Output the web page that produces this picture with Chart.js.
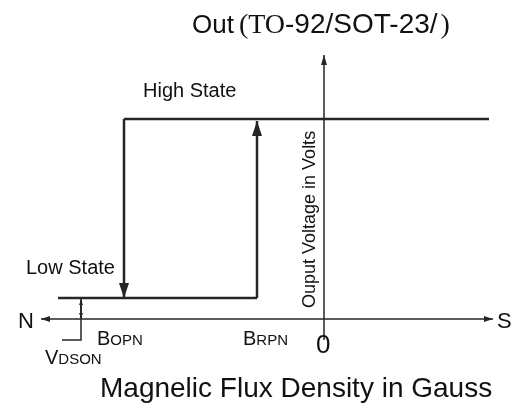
<!DOCTYPE html>
<html>
<head>
<meta charset="utf-8">
<script src="https://cdn.jsdelivr.net/npm/chart.js@4/dist/chart.umd.min.js"></script>
<style>
  body { margin: 0; background: #fff; }
  #wrap { width: 512px; height: 405px; }
</style>
</head>
<body>
<div id="wrap"><canvas id="hyst" width="512" height="405"></canvas></div>
<script>
// hysteresis loop (x = flux density, y = output voltage, arbitrary units)
const highX = [-20, 16.5];
const highY = [20, 20];
const fallX = [-20, -20];
const fallY = [20, 2.1];
const lowX = [-26.6, -6.7];
const lowY = [2.1, 2.1];
const riseX = [-6.7, -6.7];
const riseY = [2.1, 19.8];

// axes
const fluxAxisX = [-28.3, 16.9];
const fluxAxisY = [0, 0];
const voltAxisX = [0, 0];
const voltAxisY = [-2.1, 26.4];

// VDSON bracket
const vdsonX = [-26.2, -24.3, -24.3];
const vdsonY = [-2.1, -2.1, 2.1];
const vdsonMarkX = [-24.3, -24.3];
const vdsonMarkY = [1.9, 0.1];

const ink = '#262626';

function pts(xs, ys) {
    return xs.map((x, i) => ({ x: x, y: ys[i] }));
}

function line(xs, ys, width, extra) {
    return Object.assign({
        data: pts(xs, ys),
        showLine: true,
        borderColor: ink,
        borderWidth: width,
        pointRadius: 0,
        fill: false
    }, extra || {});
}

// text labels: [parts, x, y], parts = [text, font, gap before]
const sans = 'Liberation Sans, Arial, sans-serif';
const serif = 'Liberation Serif, Times New Roman, serif';
const labels = [
    [[['Out', '26px ' + sans], ['(TO', '28px ' + serif, 5], ['-92/SOT-23/', '28px ' + sans], [')', '28px ' + serif, 3]], -13.2, 28.6],
    [[['High State', '20px ' + sans]], -18.1, 22.2],
    [[['Low State', '20px ' + sans]], -29.8, 4.5],
    [[['N', '22px ' + sans]], -30.6, -0.9],
    [[['S', '22px ' + sans]], 17.3, -0.9],
    [[['0', '26px ' + sans]], -0.8, -3.4],
    [[['B', '20px ' + sans], ['OPN', '15px ' + sans]], -22.7, -2.6],
    [[['B', '20px ' + sans], ['RPN', '15px ' + sans]], -8.1, -2.6],
    [[['V', '20px ' + sans], ['DSON', '15px ' + sans]], -27.9, -4.5],
    [[['Magnelic Flux Density in Gauss', '28px ' + sans]], -22.4, -7.8]
];
const sideLabel = ['Ouput Voltage in Volts', '18px ' + sans, -0.9, 1.1];

function drawHead(ctx, from, to, size) {
    const a = Math.atan2(to.y - from.y, to.x - from.x);
    const len = size[0], w = size[1] / 2;
    const bx = to.x - len * Math.cos(a), by = to.y - len * Math.sin(a);
    ctx.beginPath();
    ctx.moveTo(to.x, to.y);
    ctx.lineTo(bx - w * Math.sin(a), by + w * Math.cos(a));
    ctx.lineTo(bx + w * Math.sin(a), by - w * Math.cos(a));
    ctx.closePath();
    ctx.fill();
}

const decorations = {
    id: 'decorations',
    afterDatasetsDraw(chart) {
        const ctx = chart.ctx;
        const sx = chart.scales.x, sy = chart.scales.y;
        ctx.save();
        ctx.fillStyle = ink;
        chart.data.datasets.forEach((ds, i) => {
            const p = chart.getDatasetMeta(i).data;
            const n = p.length;
            if (ds.arrowEnd) drawHead(ctx, p[n - 2], p[n - 1], ds.arrowEnd);
            if (ds.arrowStart) drawHead(ctx, p[1], p[0], ds.arrowStart);
        });

        ctx.fillStyle = '#111';
        ctx.textBaseline = 'alphabetic';
        ctx.textAlign = 'left';
        labels.forEach(l => {
            let x = sx.getPixelForValue(l[1]);
            const y = sy.getPixelForValue(l[2]);
            l[0].forEach(part => {
                ctx.font = part[1];
                x += part[2] || 0;
                ctx.fillText(part[0], x, y);
                x += ctx.measureText(part[0]).width;
            });
        });

        ctx.translate(sx.getPixelForValue(sideLabel[2]), sy.getPixelForValue(sideLabel[3]));
        ctx.rotate(-Math.PI / 2);
        ctx.font = sideLabel[1];
        ctx.fillText(sideLabel[0], 0, 0);
        ctx.restore();
    }
};

new Chart(document.getElementById('hyst'), {
    type: 'scatter',
    data: {
        datasets: [
            line(fluxAxisX, fluxAxisY, 1.5, { arrowEnd: [9, 6], arrowStart: [9, 6] }),
            line(voltAxisX, voltAxisY, 1.5, { arrowEnd: [10, 6] }),
            line(highX, highY, 2.5),
            line(fallX, fallY, 2.5, { arrowEnd: [15, 10] }),
            line(lowX, lowY, 2.5),
            line(riseX, riseY, 2.5, { arrowEnd: [15, 10] }),
            line(vdsonX, vdsonY, 1.5),
            line(vdsonMarkX, vdsonMarkY, 1, { arrowEnd: [5, 4], arrowStart: [5, 4] })
        ]
    },
    options: {
        responsive: false,
        animation: false,
        layout: { padding: 0 },
        plugins: {
            legend: { display: false },
            tooltip: { enabled: false }
        },
        scales: {
            x: { type: 'linear', display: false, min: -32.4, max: 18.8 },
            y: { type: 'linear', display: false, min: -8.6, max: 31.9 }
        }
    },
    plugins: [decorations]
});
</script>
</body>
</html>
